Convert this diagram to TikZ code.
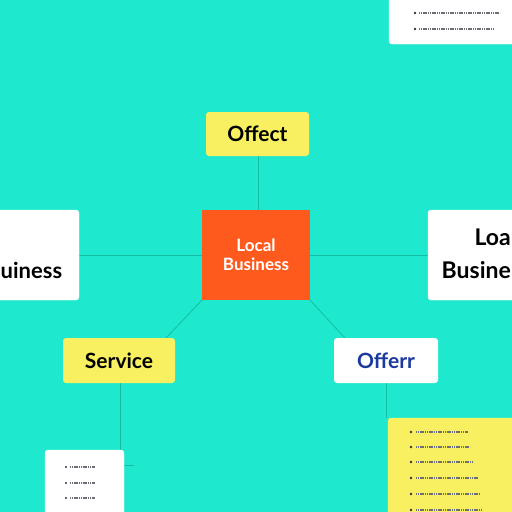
\documentclass[tikz,border=0pt]{standalone}
\usepackage{fontspec}
\setmainfont{Lato}
\definecolor{bg}{RGB}{30,232,206}
\definecolor{yel}{RGB}{248,240,96}
\definecolor{org}{RGB}{255,90,30}
\definecolor{navy}{RGB}{26,58,160}
\definecolor{wire}{RGB}{20,190,165}
\definecolor{ph}{RGB}{110,110,120}
\begin{document}
\begin{tikzpicture}[x=1pt,y=-1pt,
  card/.style={rounded corners=3pt, inner sep=0pt},
  lbl/.style={font=\bfseries\fontsize{21}{23}\selectfont},
  wirel/.style={draw=wire, line width=0.8pt},
  phline/.style={draw=ph, line width=1.8pt, dash pattern=on 1.2pt off 0.6pt},
  bul/.style={fill=black!80}]
\useasboundingbox (0,0) rectangle (512,512);
\clip (0,0) rectangle (512,512);
\fill[bg] (0,0) rectangle (512,512);
% connectors
\coordinate (ofB) at (258,156);
\coordinate (cT) at (258,210);
\draw[wirel] (ofB) -- (cT);
\coordinate (lR) at (79,255);
\coordinate (cL) at (202,255);
\draw[wirel] (lR) -- (cL);
\coordinate (cR) at (310,255);
\coordinate (rL) at (428,255);
\draw[wirel] (cR) -- (rL);
\coordinate (cBL) at (202,300);
\coordinate (sTR) at (166,338);
\draw[wirel] (cBL) -- (sTR);
\coordinate (cBR) at (310,300);
\coordinate (oTL) at (345,338);
\draw[wirel] (cBR) -- (oTL);
\coordinate (sB) at (120,383);
\coordinate (sD) at (120,450);
\draw[wirel] (sB) -- (sD);
\coordinate (oB) at (386,383);
\coordinate (oD) at (386,418);
\draw[wirel] (oB) -- (oD);
\coordinate (blR) at (124,465);
\coordinate (blE) at (134,465);
\draw[wirel] (blR) -- (blE);
% boxes
\filldraw[card, fill=white, draw=white] (389,-6) rectangle (518,44);
\node[card, fill=yel, minimum width=103pt, minimum height=44pt, lbl] (offect) at (257.5,134) {Offect};
\node[fill=org, minimum width=108pt, minimum height=90pt, text=white, align=center, font=\bfseries\fontsize{17}{19}\selectfont] (center) at (256,255) {Local\\Business};
\filldraw[card, fill=white, draw=white] (-6,210) rectangle (79,300);
\node[anchor=west, inner sep=0pt, font=\bfseries\fontsize{22}{24}\selectfont] (leftt) at (0.5,270) {uiness};
\filldraw[card, fill=white, draw=white] (428,210) rectangle (520,300);
\node[anchor=east, inner sep=0pt, font=\bfseries\fontsize{23}{25}\selectfont] (rightt1) at (511,237) {Loa};
\node[anchor=east, inner sep=0pt, font=\bfseries\fontsize{23}{25}\selectfont] (rightt2) at (511,270) {Busine};
\node[card, fill=yel, minimum width=112pt, minimum height=45pt, lbl] (service) at (119,360.5) {Service};
\node[card, fill=white, minimum width=104pt, minimum height=45pt, lbl, text=navy] (offerr) at (386,360.5) {Offerr};
\filldraw[card, fill=white, draw=white] (45,450) rectangle (124,520);
\filldraw[card, fill=yel, draw=yel] (388,418) rectangle (520,520);
% placeholder lines
\foreach \y/\l in {13/500,29/494} {
  \fill[bul] (415,\y) circle (1.3pt);
  \draw[phline] (419,\y) -- (\l,\y);
}
\foreach \y in {467,483,498} {
  \fill[bul] (66,\y) circle (1.2pt);
  \draw[phline] (70,\y) -- (95,\y);
}
\foreach \y/\l in {432/468,447/470,462/472,478/478,494/480,510/482} {
  \fill[bul] (411,\y) circle (1.3pt);
  \draw[phline] (416,\y) -- (\l,\y);
}
\end{tikzpicture}
\end{document}
